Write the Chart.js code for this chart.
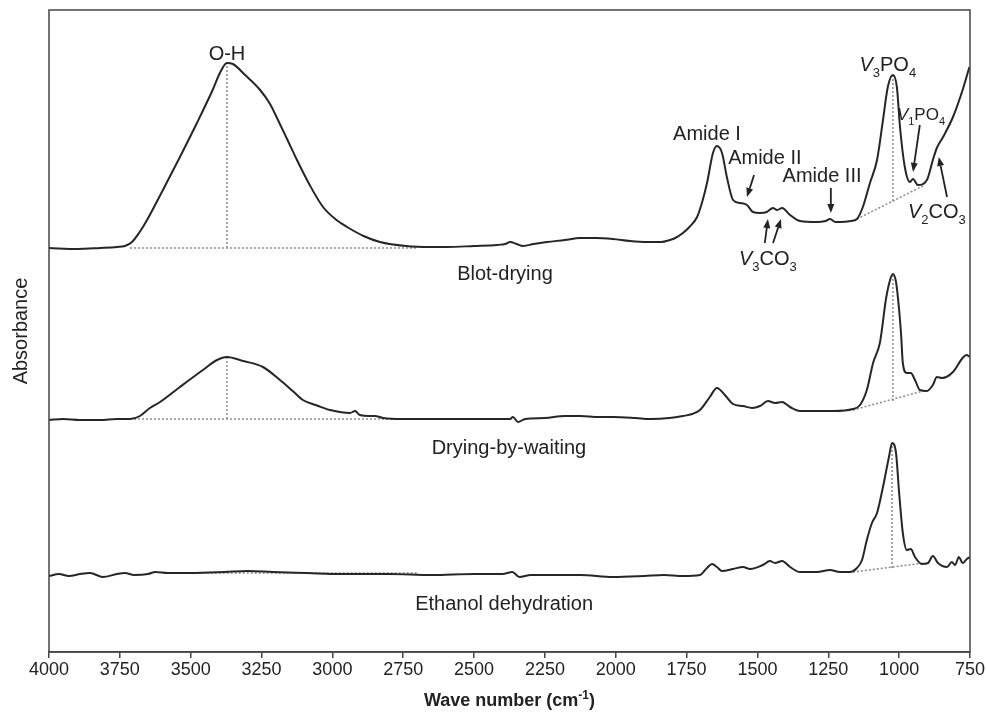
<!DOCTYPE html>
<html>
<head>
<meta charset="utf-8">
<script src="https://cdn.jsdelivr.net/npm/chart.js@4.4.1/dist/chart.umd.min.js"></script>
<style>
html, body { margin: 0; padding: 0; background: #fff; }
#wrap { width: 986px; height: 719px; }
</style>
</head>
<body>
<div id="wrap"><canvas id="ftir"></canvas></div>
<script>
// wave numbers (cm-1) and absorbance (arbitrary, spectra stacked with offsets)
const blotX = [4000,3900,3820,3760,3732,3707,3680,3654,3598,3538,3478,3421,3397,3372,3351,3308,3255,3220,3192,3160,3125,3080,3033,2990,2948,2890,2832,2740,2656,2596,2500,2419,2390,2373,2350,2327,2290,2243,2180,2126,2070,2010,1950,1890,1840,1809,1790,1763,1740,1713,1695,1678,1657,1643,1625,1608,1586,1562,1537,1516,1491,1467,1445,1431,1413,1385,1350,1290,1260,1244,1225,1209,1170,1149,1128,1103,1078,1057,1040,1022,1008,997,980,962,951,934,902,881,867,845,810,776,752];
const blotY = [4.04,4.03,4.04,4.05,4.06,4.10,4.20,4.32,4.62,4.95,5.29,5.63,5.79,5.89,5.88,5.77,5.62,5.48,5.32,5.13,4.92,4.67,4.45,4.33,4.25,4.16,4.10,4.06,4.05,4.05,4.06,4.07,4.08,4.10,4.08,4.06,4.08,4.10,4.12,4.14,4.14,4.13,4.11,4.10,4.10,4.12,4.14,4.19,4.25,4.35,4.50,4.69,4.99,5.06,4.99,4.75,4.52,4.49,4.47,4.40,4.39,4.40,4.44,4.42,4.44,4.37,4.31,4.30,4.31,4.33,4.30,4.30,4.31,4.33,4.45,4.69,4.92,5.32,5.65,5.77,5.65,5.25,4.85,4.70,4.73,4.67,4.72,4.92,5.04,5.15,5.35,5.62,5.85];

const waitX = [4000,3950,3891,3820,3760,3714,3679,3644,3608,3538,3457,3407,3372,3315,3245,3185,3140,3104,3050,3008,2938,2920,2903,2870,2850,2821,2750,2656,2500,2400,2373,2363,2345,2320,2250,2180,2126,2060,2010,1930,1879,1810,1763,1730,1703,1668,1643,1615,1586,1551,1519,1491,1463,1438,1413,1385,1350,1300,1233,1163,1138,1114,1092,1068,1061,1047,1032,1022,1011,1000,993,987,973,959,944,927,902,881,867,849,810,776,762,750];
const waitY = [2.32,2.33,2.32,2.32,2.33,2.33,2.36,2.44,2.50,2.65,2.82,2.92,2.95,2.91,2.85,2.72,2.61,2.52,2.46,2.42,2.39,2.41,2.37,2.36,2.36,2.34,2.33,2.33,2.33,2.33,2.33,2.35,2.30,2.33,2.34,2.36,2.36,2.35,2.35,2.34,2.33,2.34,2.36,2.38,2.42,2.55,2.64,2.57,2.48,2.46,2.44,2.46,2.51,2.49,2.50,2.45,2.41,2.41,2.41,2.43,2.47,2.62,2.89,3.09,3.22,3.52,3.72,3.78,3.70,3.42,3.17,2.89,2.79,2.79,2.72,2.62,2.61,2.67,2.75,2.74,2.80,2.94,2.97,2.95];

const ethX = [4000,3965,3930,3890,3855,3810,3760,3732,3700,3650,3625,3580,3500,3380,3300,3210,3090,2970,2800,2650,2500,2400,2365,2340,2300,2200,2126,2010,1900,1830,1763,1703,1678,1660,1643,1625,1586,1551,1526,1481,1456,1438,1413,1385,1350,1290,1244,1209,1174,1149,1131,1114,1096,1078,1057,1036,1025,1011,1000,987,973,959,944,920,898,881,863,831,814,803,789,776,761,750];
const ethY = [0.76,0.78,0.76,0.78,0.79,0.75,0.78,0.79,0.77,0.78,0.80,0.79,0.79,0.80,0.81,0.80,0.79,0.78,0.78,0.77,0.78,0.78,0.80,0.75,0.77,0.77,0.77,0.75,0.76,0.77,0.76,0.77,0.84,0.88,0.85,0.81,0.83,0.85,0.83,0.87,0.91,0.89,0.91,0.85,0.80,0.80,0.82,0.80,0.80,0.84,0.92,1.12,1.29,1.39,1.65,1.95,2.09,1.99,1.59,1.19,1.02,1.03,0.95,0.88,0.89,0.96,0.89,0.85,0.90,0.87,0.95,0.89,0.93,0.95];

// dotted baselines / peak markers: [x1, y1, x2, y2]
const guideLines = [
  [3714, 4.04, 2700, 4.04],
  [3372, 4.04, 3372, 5.89],
  [1149, 4.33, 909, 4.67],
  [1022, 4.51, 1022, 5.77],
  [3714, 2.33, 2700, 2.33],
  [3372, 2.33, 3372, 2.95],
  [1163, 2.42, 915, 2.61],
  [1022, 2.51, 1022, 3.78],
  [3500, 0.79, 2700, 0.79],
  [1163, 0.80, 909, 0.89],
  [1025, 0.84, 1025, 2.09]
];

const xTicks = [4000,3750,3500,3250,3000,2750,2500,2250,2000,1750,1500,1250,1000,750];

// text labels, placed in data units
const peakLabels = [
  {parts: [['O-H', 'n']], x: 3372, y: 5.99, size: 20},
  {parts: [['Amide I', 'n']], x: 1678, y: 5.19, size: 20},
  {parts: [['Amide II', 'n']], x: 1474, y: 4.95, size: 20},
  {parts: [['Amide III', 'n']], x: 1272, y: 4.77, size: 20},
  {parts: [['V', 'i'], ['3', 's'], ['CO', 'n'], ['3', 's']], x: 1463, y: 3.94, size: 20},
  {parts: [['V', 'i'], ['3', 's'], ['PO', 'n'], ['4', 's']], x: 1040, y: 5.88, size: 20},
  {parts: [['V', 'i'], ['1', 's'], ['PO', 'n'], ['4', 's']], x: 923, y: 5.38, size: 17},
  {parts: [['V', 'i'], ['2', 's'], ['CO', 'n'], ['3', 's']], x: 867, y: 4.41, size: 20},
  {parts: [['Blot-drying', 'n']], x: 2391, y: 3.79, size: 20},
  {parts: [['Drying-by-waiting', 'n']], x: 2377, y: 2.05, size: 20},
  {parts: [['Ethanol dehydration', 'n']], x: 2394, y: 0.49, size: 20}
];

// arrows: [fromX, fromY, toX, toY]
const arrows = [
  [1512, 4.77, 1537, 4.55],
  [1241, 4.64, 1241, 4.39],
  [1474, 4.09, 1463, 4.33],
  [1445, 4.09, 1417, 4.33],
  [927, 5.27, 951, 4.80],
  [831, 4.55, 860, 4.95]
];

const SANS = '"Liberation Sans", Arial, sans-serif';
const NARROW = '"Liberation Sans Narrow", "Arial Narrow", "Liberation Sans", sans-serif';

function toPoints(xs, ys) {
  return xs.map((x, i) => ({x: x, y: ys[i]}));
}

function spectrum(xs, ys) {
  return {
    data: toPoints(xs, ys),
    borderColor: '#262626',
    borderWidth: 2,
    pointRadius: 0,
    cubicInterpolationMode: 'monotone',
    fill: false,
    order: 0
  };
}

let datasets = [spectrum(blotX, blotY), spectrum(waitX, waitY), spectrum(ethX, ethY)];
guideLines.forEach(g => {
  datasets.push({
    data: [{x: g[0], y: g[1]}, {x: g[2], y: g[3]}],
    borderColor: '#8a8a8a',
    borderWidth: 1.5,
    borderDash: [2, 2],
    pointRadius: 0,
    fill: false,
    order: 1
  });
});

function drawRich(ctx, parts, cx, cy, size, bold, family) {
  let fam = family || SANS;
  let fontFor = k => (bold ? 'bold ' : '') + (k === 'i' ? 'italic ' : '') +
    Math.round(k === 's' || k === 'u' ? size * 0.66 : size) + 'px ' + fam;
  let w = 0;
  parts.forEach(p => { ctx.font = fontFor(p[1]); w += ctx.measureText(p[0]).width; });
  let x = cx - w / 2;
  let base = cy + size * 0.36;
  ctx.textAlign = 'left';
  ctx.textBaseline = 'alphabetic';
  parts.forEach(p => {
    ctx.font = fontFor(p[1]);
    let dy = p[1] === 's' ? size * 0.28 : (p[1] === 'u' ? -size * 0.42 : 0);
    ctx.fillText(p[0], x, base + dy);
    x += ctx.measureText(p[0]).width;
  });
}

function drawArrow(ctx, x1, y1, x2, y2) {
  let ang = Math.atan2(y2 - y1, x2 - x1);
  let head = 9, half = 3.5;
  let bx = x2 - head * Math.cos(ang), by = y2 - head * Math.sin(ang);
  ctx.beginPath();
  ctx.moveTo(x1, y1);
  ctx.lineTo(bx, by);
  ctx.stroke();
  ctx.beginPath();
  ctx.moveTo(x2, y2);
  ctx.lineTo(bx + half * Math.sin(ang), by - half * Math.cos(ang));
  ctx.lineTo(bx - half * Math.sin(ang), by + half * Math.cos(ang));
  ctx.closePath();
  ctx.fill();
}

const decorations = {
  id: 'decorations',
  afterDatasetsDraw(chart) {
    let ctx = chart.ctx;
    let a = chart.chartArea;
    let xs = chart.scales.x, ys = chart.scales.y;
    ctx.save();
    ctx.strokeStyle = '#444';
    ctx.lineWidth = 1.5;
    ctx.strokeRect(a.left, a.top, a.right - a.left, a.bottom - a.top);

    ctx.fillStyle = '#222';
    peakLabels.forEach(l => {
      drawRich(ctx, l.parts, xs.getPixelForValue(l.x), ys.getPixelForValue(l.y), l.size);
    });

    ctx.strokeStyle = '#222';
    ctx.lineWidth = 1.8;
    arrows.forEach(r => {
      drawArrow(ctx, xs.getPixelForValue(r[0]), ys.getPixelForValue(r[1]),
        xs.getPixelForValue(r[2]), ys.getPixelForValue(r[3]));
    });

    // axis titles
    drawRich(ctx, [['Wave number (cm', 'n'], ['-1', 'u'], [')', 'n']],
      (a.left + a.right) / 2, 700, 18, true, NARROW);
    ctx.translate(20, (a.top + a.bottom) / 2);
    ctx.rotate(-Math.PI / 2);
    drawRich(ctx, [['Absorbance', 'n']], 0, 0, 20);
    ctx.restore();
  }
};

new Chart(document.getElementById('ftir'), {
  type: 'line',
  data: {datasets: datasets},
  options: {
    responsive: true,
    maintainAspectRatio: false,
    animation: false,
    devicePixelRatio: 1,
    layout: {padding: {left: 49, right: 16, top: 10, bottom: 0}},
    plugins: {
      legend: {display: false},
      tooltip: {enabled: false}
    },
    scales: {
      x: {
        type: 'linear',
        reverse: true,
        min: 750,
        max: 4000,
        afterFit: s => { s.height = 67; },
        afterBuildTicks: s => { s.ticks = xTicks.map(v => ({value: v})); },
        ticks: {
          autoSkip: false,
          maxRotation: 0,
          padding: 1,
          color: '#222',
          font: {family: NARROW, size: 18},
          callback: v => String(v)
        },
        grid: {drawOnChartArea: false, drawTicks: true, tickLength: 6, color: '#444', lineWidth: 1.5},
        border: {display: true, color: '#444', width: 1.5}
      },
      y: {
        display: false,
        min: 0,
        max: 6.42
      }
    }
  },
  plugins: [decorations]
});
</script>
</body>
</html>
